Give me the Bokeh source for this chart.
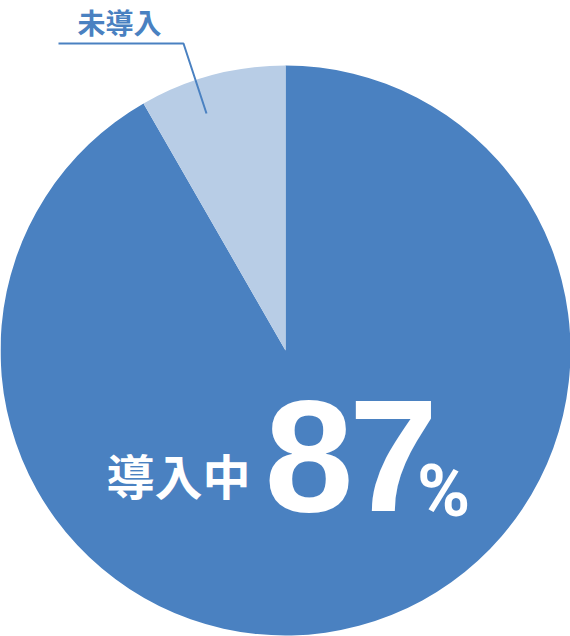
import math
from bokeh.plotting import figure
from bokeh.models import ColumnDataSource, Range1d
from bokeh.core.properties import value
from bokeh.embed import file_html
from bokeh.resources import INLINE

# data
categories = ["導入中", "未導入"]
shares = [91.7, 8.3]          # slice sizes as drawn
colors = ["#4a81c1", "#b8cde6"]
main_label = "導入中"
main_digits = ["8", "7"]
main_unit = "%"
minor_label = "未導入"

W, H = 570, 636
p = figure(width=W, height=H, output_backend="svg", toolbar_location=None,
           x_range=Range1d(0, W), y_range=Range1d(0, H),
           min_border=0, outline_line_color=None)
p.axis.visible = False
p.grid.visible = False
p.background_fill_color = "white"
p.border_fill_color = "white"

cx, cy, r = 285, 286, 285
total = sum(shares)
starts, ends = [], []
acc = 0.0
for s in shares:
    starts.append(math.pi / 2 - 2 * math.pi * acc / total)
    acc += s
    ends.append(math.pi / 2 - 2 * math.pi * acc / total)

src = ColumnDataSource(dict(cat=categories, start=starts, end=ends, color=colors))
p.wedge(x=cx, y=cy, radius=r, start_angle="start", end_angle="end",
        direction="clock", fill_color="color", line_color=None, source=src)

# leader line
p.line(x=[58, 183, 206], y=[593, 593, 523], line_color="#4a81c1", line_width=2)

p.text(x=[77], y=[635], text=[minor_label], text_color="#4a81c1",
       text_font=value("Noto Sans CJK JP"), text_font_style="bold",
       text_font_size="28px", text_align="left", text_baseline="top")

p.text(x=[106], y=[162.5], text=[main_label], text_color="white",
       text_font=value("Noto Sans CJK JP"), text_font_style="bold",
       text_font_size="48px", text_align="left", text_baseline="middle")

p.text(x=[308.5, 393], y=[180.5, 180.5], text=main_digits, text_color="white",
       text_font=value("Liberation Sans"), text_font_style="bold",
       text_font_size="160px", text_align="center", text_baseline="middle")

p.text(x=[443], y=[145.5], text=[main_unit], text_color="white",
       text_font=value("Roboto"), text_font_style="bold",
       text_font_size="72px", text_align="center", text_baseline="middle")

open("out.html", "w").write(file_html(p, INLINE))
